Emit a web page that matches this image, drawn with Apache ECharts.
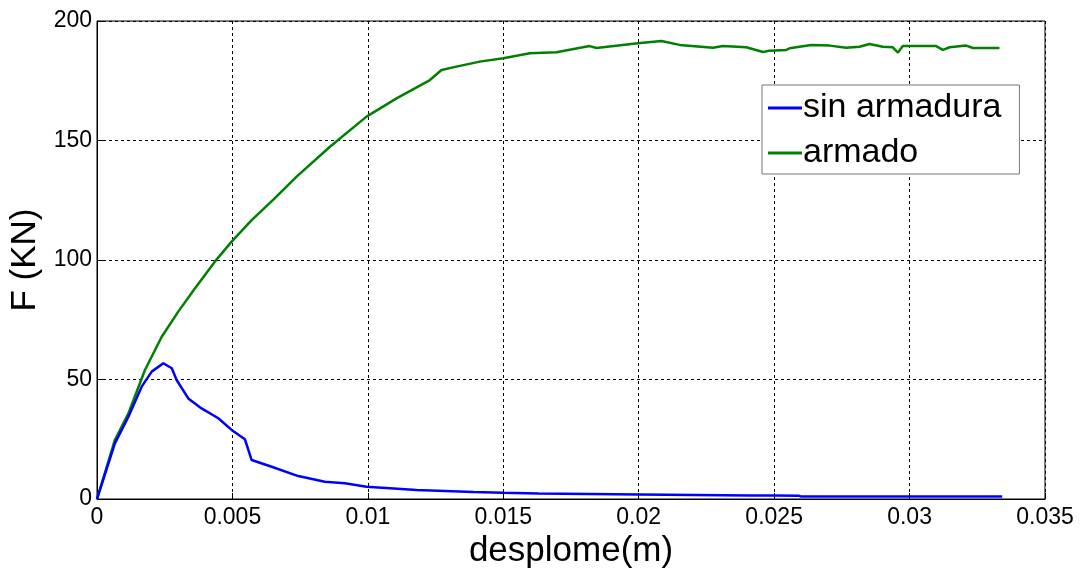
<!DOCTYPE html>
<html>
<head>
<meta charset="utf-8">
<script src="https://cdn.jsdelivr.net/npm/echarts@6/dist/echarts.min.js"></script>
<style>
  html, body { margin: 0; padding: 0; background: #fff; }
  #chart { width: 1080px; height: 568px; }
</style>
</head>
<body>
<div id="chart"></div>
<script>
// sin armadura (blue)
var sinX = [0, 0.00066, 0.00116, 0.00165, 0.00202, 0.00245, 0.00276, 0.00294, 0.00337, 0.00386, 0.00448, 0.00497, 0.00546, 0.00571, 0.00645, 0.00743, 0.00841, 0.00915, 0.00995, 0.0118, 0.0139, 0.015, 0.0163, 0.02, 0.0241, 0.025, 0.0259, 0.026, 0.03, 0.03342];
var sinY = [0, 23.3, 34.4, 47.0, 53.3, 56.8, 54.7, 49.8, 42.1, 37.9, 33.8, 28.9, 25.0, 16.3, 13.5, 9.6, 7.2, 6.6, 5.1, 3.8, 2.9, 2.6, 2.3, 1.9, 1.5, 1.5, 1.4, 1.0, 1.0, 1.0];

// armado (green)
var armX = [0, 0.00066, 0.00116, 0.00177, 0.00239, 0.003, 0.00362, 0.00435, 0.00497, 0.00571, 0.00614, 0.00651, 0.00737, 0.0086, 0.00995, 0.01106, 0.01229, 0.01272, 0.01327, 0.01413, 0.015, 0.01598, 0.01696, 0.01819, 0.01844, 0.01997, 0.02084, 0.02151, 0.02274, 0.02311, 0.02397, 0.02459, 0.02483, 0.02545, 0.02557, 0.02637, 0.02705, 0.02766, 0.02815, 0.02852, 0.02901, 0.02938, 0.02957, 0.02975, 0.03098, 0.03123, 0.03148, 0.03209, 0.03234, 0.03332];
var armY = [0, 24.7, 35.8, 54.0, 67.9, 78.4, 88.2, 99.3, 107.7, 116.7, 121.3, 125.3, 134.9, 147.4, 160.0, 167.6, 175.3, 179.5, 180.9, 183.0, 184.4, 186.5, 186.9, 189.5, 188.7, 190.7, 191.6, 190.0, 188.8, 189.5, 189.0, 187.0, 187.6, 187.9, 188.6, 190.0, 189.7, 188.8, 189.2, 190.4, 189.2, 189.0, 186.8, 189.5, 189.5, 187.9, 189.0, 189.7, 188.7, 188.7];

var seriesNames = ['sin armadura', 'armado'];

function pairs(xs, ys) {
    var out = [];
    for (var i = 0; i < xs.length; i++) out.push([xs[i], ys[i]]);
    return out;
}

var chart = echarts.init(document.getElementById('chart'), null, {renderer: 'canvas'});
var font = 'Liberation Sans, Arial, sans-serif';
var gridLine = {show: true, lineStyle: {color: '#000', type: [3, 3], width: 1}};

chart.setOption({
    backgroundColor: '#fff',
    animation: false,
    textStyle: {fontFamily: font},
    grid: {left: 97, right: 35, top: 21, bottom: 69, outerBoundsMode: 'none', containLabel: false,
        show: true, borderColor: '#000', borderWidth: 1, backgroundColor: 'transparent'},
    legend: {
        data: seriesNames,
        orient: 'vertical',
        left: 762,
        top: 85,
        padding: [6, 18, 4, 6],
        itemGap: 11,
        itemWidth: 34,
        itemHeight: 3,
        icon: 'rect',
        backgroundColor: '#fff',
        borderColor: '#777',
        borderWidth: 1,
        borderRadius: 0,
        textStyle: {fontSize: 34, color: '#000', fontFamily: font, padding: [0, 0, 0, -4]}
    },
    xAxis: {
        type: 'value',
        min: 0,
        max: 0.035,
        interval: 0.005,
        name: 'desplome(m)',
        nameLocation: 'middle',
        nameGap: 33,
        nameTextStyle: {fontSize: 35, color: '#000', fontFamily: font},
        axisLine: {lineStyle: {color: '#000', width: 1}},
        axisTick: {inside: true, length: 6, lineStyle: {color: '#000'}},
        axisLabel: {fontSize: 23, color: '#000', margin: 7, fontFamily: font,
            formatter: function (v) { return String(parseFloat(v.toFixed(3))); }},
        splitLine: gridLine
    },
    yAxis: {
        type: 'value',
        min: 0,
        max: 200,
        interval: 50,
        name: 'F (KN)',
        nameLocation: 'middle',
        nameGap: 54,
        nameTextStyle: {fontSize: 35, color: '#000', fontFamily: font},
        axisLine: {show: true, lineStyle: {color: '#000', width: 1}},
        axisTick: {show: true, inside: true, length: 6, lineStyle: {color: '#000'}},
        axisLabel: {fontSize: 23, color: '#000', margin: 5, fontFamily: font},
        splitLine: gridLine
    },
    series: [
        {
            name: seriesNames[0],
            type: 'line',
            data: pairs(sinX, sinY),
            showSymbol: false,
            color: '#0000ff',
            lineStyle: {width: 2.5, color: '#0000ff'},
            z: 3
        },
        {
            name: seriesNames[1],
            type: 'line',
            data: pairs(armX, armY),
            showSymbol: false,
            color: '#008000',
            lineStyle: {width: 2.5, color: '#008000'},
            z: 2
        }
    ]
});
</script>
</body>
</html>
